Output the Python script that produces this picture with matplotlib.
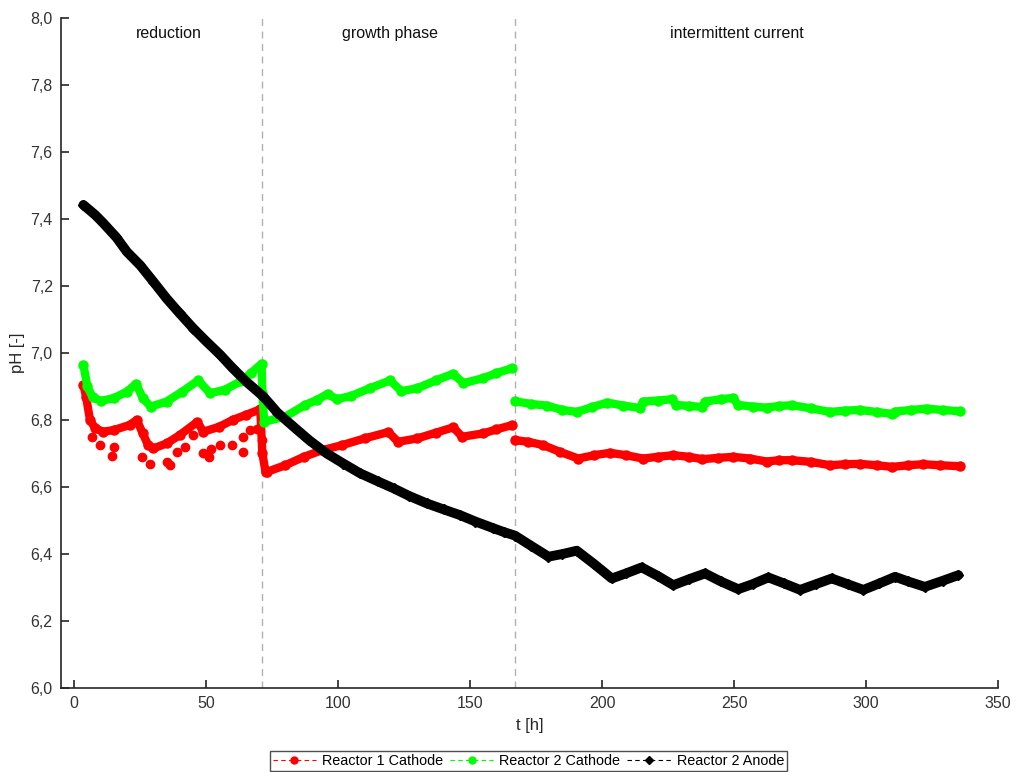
import numpy as np
import matplotlib
matplotlib.use("Agg")
import matplotlib.pyplot as plt
from matplotlib.lines import Line2D
from matplotlib.ticker import FuncFormatter

plt.rcParams['font.family'] = ['Liberation Sans', 'DejaVu Sans']

nan = np.nan

# Reactor 1 Cathode (red)
r1_t = [3.5, 4.5, 6, 8, 11, 15, 21, 23.7, 26, 28, 30, 35, 40, 46.6, 49, 55, 60, 65, 70.5,
        71.3, 72.5, 73, 80, 87, 94, 101.5, 110, 119, 122.7, 130, 137, 143.6, 147, 155, 160, 166,
        nan,
        167, 172, 177.7, 184, 191, 197, 203, 209, 215.5, 221, 227, 233, 238, 244, 249.7, 256,
        262.4, 267, 272, 279, 286.4, 292, 297.7, 304, 310, 316, 321.6, 328, 335.6]
r1_ph = [6.905, 6.87, 6.80, 6.775, 6.765, 6.77, 6.785, 6.80, 6.76, 6.725, 6.715, 6.73, 6.755, 6.794, 6.765, 6.78, 6.80, 6.815, 6.832,
         6.70, 6.645, 6.645, 6.665, 6.69, 6.71, 6.725, 6.745, 6.764, 6.735, 6.745, 6.762, 6.778, 6.75, 6.76, 6.772, 6.785,
         nan,
         6.74, 6.735, 6.725, 6.705, 6.685, 6.695, 6.702, 6.695, 6.685, 6.69, 6.695, 6.69, 6.683, 6.687, 6.69, 6.685,
         6.676, 6.68, 6.68, 6.675, 6.665, 6.668, 6.669, 6.665, 6.66, 6.665, 6.668, 6.665, 6.662]

# scattered low readings of Reactor 1 Cathode during reduction
r1_scatter_t = [6.7, 9.8, 14.3, 15, 25.6, 28.8, 35, 36.4, 38.9, 42, 45, 49, 50.9, 51.7, 55.3, 59.7, 64.1, 64.1, 66.7, 69.2, 71.2, 71.2]
r1_scatter_ph = [6.75, 6.725, 6.693, 6.72, 6.69, 6.67, 6.676, 6.666, 6.705, 6.72, 6.755, 6.70, 6.69, 6.714, 6.725, 6.725, 6.75, 6.705, 6.77, 6.772, 6.80, 6.74]

# Reactor 2 Cathode (green)
r2c_t = [3.5, 5, 7, 10, 15, 20, 23.5, 26, 29, 35, 41, 47, 51.5, 57, 63, 67, 71,
         71.3, 72, 80, 87.5, 92, 96, 99.5, 105, 112, 119.7, 124, 130, 137, 143.5, 147.5, 155, 160, 166,
         nan,
         167, 173, 179, 185, 190.5, 196, 202, 208, 214.4, 215.6, 221, 226.5, 228, 233, 238, 239, 245, 249.7,
         251.5, 257, 262.4, 267, 272, 279, 286.4, 292, 297.7, 304, 310, 311, 317, 323, 329, 335.6]
r2c_ph = [6.965, 6.90, 6.868, 6.857, 6.865, 6.885, 6.908, 6.865, 6.84, 6.855, 6.885, 6.918, 6.88, 6.89, 6.915, 6.94, 6.968,
          6.88, 6.795, 6.81, 6.845, 6.86, 6.878, 6.862, 6.872, 6.895, 6.918, 6.886, 6.895, 6.918, 6.938, 6.91, 6.925, 6.94, 6.955,
          nan,
          6.856, 6.848, 6.843, 6.83, 6.824, 6.838, 6.852, 6.843, 6.836, 6.855, 6.858, 6.862, 6.845, 6.842, 6.839, 6.855, 6.862, 6.866,
          6.845, 6.84, 6.837, 6.842, 6.844, 6.835, 6.824, 6.828, 6.83, 6.824, 6.818, 6.825, 6.83, 6.834, 6.83, 6.826]

# Reactor 2 Anode (black)
r2a_t = [3.5, 8, 11, 16, 20, 25, 30, 35.1, 40, 45.2, 50, 55.3, 60, 65.4, 71.7, 77, 83.1, 89, 95.7, 102,
         108.3, 115, 121, 127, 133.6, 140, 146.2, 152, 158.8, 163, 167, 173, 179.7, 185, 190.4, 197, 203.7,
         209, 215, 221, 227, 233, 239, 245, 251.6, 257, 263, 269, 275, 281, 287, 293, 299, 305, 311, 316, 322.3, 329, 335]
r2a_ph = [7.442, 7.412, 7.388, 7.345, 7.302, 7.262, 7.213, 7.162, 7.118, 7.073, 7.035, 6.995, 6.955, 6.913, 6.87, 6.822, 6.78, 6.74, 6.70, 6.67,
          6.641, 6.617, 6.596, 6.573, 6.551, 6.533, 6.516, 6.497, 6.477, 6.465, 6.455, 6.425, 6.392, 6.40, 6.41, 6.37, 6.327,
          6.342, 6.36, 6.335, 6.307, 6.325, 6.342, 6.318, 6.295, 6.31, 6.33, 6.312, 6.293, 6.31, 6.327, 6.31, 6.293, 6.312, 6.332, 6.318, 6.302, 6.32, 6.337]

phase_bounds = [71.2, 167]
phase_names = ["reduction", "growth phase", "intermittent current"]
phase_label_t = [36, 119.5, 251]

xticks = [0, 50, 100, 150, 200, 250, 300, 350]
yticks = [6.0, 6.2, 6.4, 6.6, 6.8, 7.0, 7.2, 7.4, 7.6, 7.8, 8.0]

RED = "#ff0000"
GREEN = "#00ff00"
BLACK = "#000000"

fig = plt.figure(figsize=(10.16, 7.72), dpi=100)
ax = fig.add_axes([0.060, 0.1088, 0.9223, 0.8679])

for xb in phase_bounds:
    ax.axvline(xb, color="#b0b0b0", lw=1.0, ls=(0, (5, 4)), zorder=1)

line_kw = dict(solid_capstyle="round", solid_joinstyle="round")
ax.plot(r1_scatter_t, r1_scatter_ph, ls="none", marker="o", ms=6, color=RED, mec=RED, zorder=2)
ax.plot(r1_t, r1_ph, color=RED, lw=6.0, marker="o", ms=6.5, zorder=3, **line_kw)
ax.plot(r2c_t, r2c_ph, color=GREEN, lw=6.0, marker="o", ms=6.5, zorder=3, **line_kw)
ax.plot(r2a_t, r2a_ph, color=BLACK, lw=7.0, marker="D", ms=5.5, zorder=4, **line_kw)

for name, tx in zip(phase_names, phase_label_t):
    ax.text(tx, 7.955, name, ha="center", va="center", fontsize=11.5, color="#111111")

ax.set_xlim(-5, 350)
ax.set_ylim(6.0, 8.0)
ax.set_xticks(xticks)
ax.set_yticks(yticks)
ax.yaxis.set_major_formatter(FuncFormatter(lambda v, p: f"{v:.1f}".replace(".", ",")))
ax.tick_params(direction="in", length=6, width=1.2, colors="#262626", labelcolor="#333333",
               labelsize=11.5, pad=6)
for s in ["top", "right"]:
    ax.spines[s].set_visible(False)
for s in ["left", "bottom"]:
    ax.spines[s].set_color("#262626")
    ax.spines[s].set_linewidth(1.2)

ax.set_xlabel("t [h]", fontsize=12, color="#262626", labelpad=5)
ax.set_ylabel("pH [-]", fontsize=12, color="#262626", labelpad=4)

handles = [
    Line2D([], [], color=RED, ls=(0, (4, 3)), lw=0.8, marker="o", ms=5, mec=RED, mfc=RED),
    Line2D([], [], color=GREEN, ls=(0, (4, 3)), lw=0.8, marker="o", ms=5, mec=GREEN, mfc=GREEN),
    Line2D([], [], color=BLACK, ls=(0, (4, 3)), lw=0.8, marker="D", ms=4, mec=BLACK, mfc=BLACK),
]
labels = ["Reactor 1 Cathode", "Reactor 2 Cathode", "Reactor 2 Anode"]
leg = fig.legend(handles, labels, loc="lower center", bbox_to_anchor=(0.52, 0.0), ncol=3,
                 fancybox=False, edgecolor="#222222", fontsize=10.4, handlelength=3.0,
                 handletextpad=0.4, columnspacing=0.5, borderpad=0.2, borderaxespad=0.1)
leg.get_frame().set_linewidth(1.0)

fig.savefig("out.png", dpi=100)
